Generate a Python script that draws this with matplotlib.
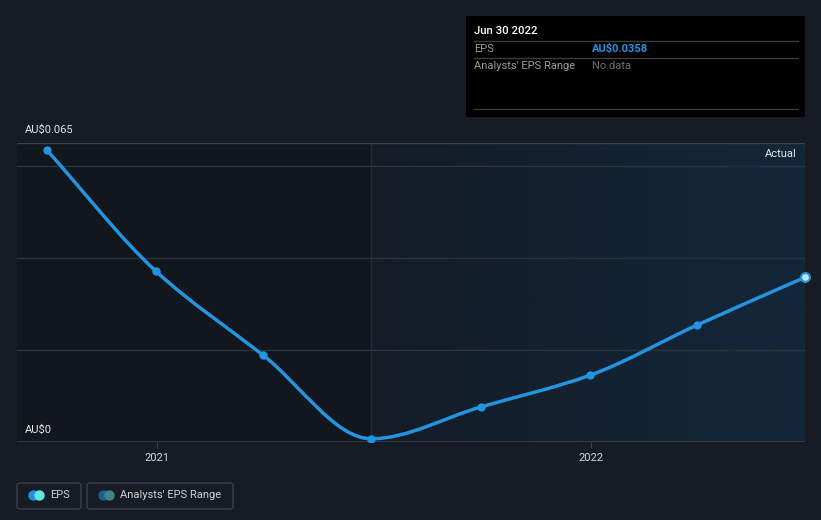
import matplotlib
matplotlib.use("Agg")
import matplotlib.pyplot as plt
import matplotlib.dates as mdates
from matplotlib.path import Path
from matplotlib.patches import PathPatch, FancyBboxPatch, Rectangle
from matplotlib.colors import LinearSegmentedColormap
import numpy as np
import datetime as dt

plt.rcParams['font.family'] = ['Roboto', 'DejaVu Sans']

dates = ["2020-09-30", "2020-12-31", "2021-03-31", "2021-06-30",
         "2021-09-30", "2021-12-31", "2022-03-31", "2022-06-30"]
eps = [0.0635, 0.0371, 0.0189, 0.0007, 0.0076, 0.0145, 0.0254, 0.0358]
y_ticks = [0, 0.065]
y_tick_labels = ["AU\\$0", "AU\\$0.065"]
x_ticks = ["2021-01-01", "2022-01-01"]
x_tick_labels = ["2021", "2022"]

BG = "#161b24"
LINE = "#2394df"
W, H = 821, 520
fig = plt.figure(figsize=(W/100, H/100), dpi=100, facecolor=BG)

def fx(px): return px / W
def fy(py): return 1 - py / H

ax = fig.add_axes([fx(17), fy(442), fx(805) - fx(17), fy(143) - fy(442)])
ax.set_facecolor(BG)

xd = mdates.date2num([dt.datetime.fromisoformat(d) for d in dates])
yd = np.array(eps)
xmin = mdates.date2num(dt.datetime(2020, 9, 5))
xmax = xd[-1]
ax.set_xlim(xmin, xmax)
ax.set_ylim(0, 0.065)

split = xd[3]
ax.axvspan(xmin, split, color="#12161d", zorder=0, lw=0)
grad = np.linspace(0, 1, 256).reshape(1, -1)
cmap = LinearSegmentedColormap.from_list("g", ["#131c27", "#13273a"])
ax.imshow(grad, extent=[split, xmax, 0, 0.065], aspect="auto", cmap=cmap, zorder=0.5)
ax.axvline(split, color="#1b3044", lw=1, zorder=1)

for g in [0.02, 0.04, 0.06]:
    ax.axhline(g, color="#2a323d", lw=1, zorder=1)
ax.axhline(0.065, color="#3a414b", lw=1, zorder=1)
ax.axhline(0, color="#3a414b", lw=1.2, zorder=1)

# monotone cubic (Fritsch-Carlson) bezier path
n = len(xd)
h = np.diff(xd)
delta = np.diff(yd) / h
m = np.zeros(n)
m[0] = delta[0]; m[-1] = delta[-1]
for i in range(1, n - 1):
    if delta[i-1] * delta[i] <= 0:
        m[i] = 0
    else:
        w1 = 2*h[i] + h[i-1]; w2 = h[i] + 2*h[i-1]
        m[i] = (w1 + w2) / (w1/delta[i-1] + w2/delta[i])
verts = [(xd[0], yd[0])]
codes = [Path.MOVETO]
for i in range(n - 1):
    d = h[i] / 3
    verts += [(xd[i] + d, yd[i] + m[i]*d), (xd[i+1] - d, yd[i+1] - m[i+1]*d), (xd[i+1], yd[i+1])]
    codes += [Path.CURVE4]*3
ax.add_patch(PathPatch(Path(verts, codes), fill=False, edgecolor=LINE, lw=2.5, zorder=3, capstyle="round"))
ax.scatter(xd[:-1], yd[:-1], s=36, color=LINE, zorder=4, lw=0)
ax.scatter(xd[-1:], yd[-1:], s=40, facecolor="#bfe6ff", edgecolor=LINE, lw=1.5, zorder=5, clip_on=False)

for s in ax.spines.values():
    s.set_visible(False)
ax.set_yticks([])
xt = mdates.date2num([dt.datetime.fromisoformat(d) for d in x_ticks])
ax.set_xticks(xt)
ax.set_xticklabels(x_tick_labels, color="#d8d8d8", fontsize=8)
ax.tick_params(axis="x", length=4, color="#3a414b", pad=4)

fig.text(fx(797), fy(154), "Actual", ha="right", va="center", color="#e8e8e8", fontsize=8)

for v, lab in zip(y_ticks, y_tick_labels):
    yp = 430 if v == 0 else 130
    fig.text(fx(25), fy(yp), lab, ha="left", va="center", color="#e8e8e8", fontsize=8)

# tooltip
fig.patches.append(Rectangle((fx(466), fy(117)), fx(805)-fx(466), fy(16)-fy(117),
                             transform=fig.transFigure, facecolor="#000000", edgecolor="none", zorder=10))
for ly in [41, 58, 109]:
    fig.lines.append(plt.Line2D([fx(474), fx(798)], [fy(ly), fy(ly)], transform=fig.transFigure,
                                color="#3c3c3c", lw=1, zorder=11))
fig.text(fx(474), fy(31), "Jun 30 2022", color="#ffffff", fontsize=8.2, fontweight="medium", va="center", zorder=12)
fig.text(fx(474), fy(49), "EPS", color="#9a9a9a", fontsize=8, va="center", zorder=12)
fig.text(fx(592), fy(49), "AU\\$0.0358", color="#2394df", fontsize=8, fontweight="bold", va="center", zorder=12)
fig.text(fx(474), fy(66), "Analysts' EPS Range", color="#9a9a9a", fontsize=8, va="center", zorder=12)
fig.text(fx(592), fy(66), "No data", color="#6e6e6e", fontsize=8, va="center", zorder=12)

# legend
def legend_box(x0, x1, c1, c2, label, tx):
    fig.patches.append(FancyBboxPatch((fx(x0), fy(509)), fx(x1)-fx(x0), fy(483)-fy(509),
                                      boxstyle="round,pad=0,rounding_size=0.004",
                                      transform=fig.transFigure, facecolor="none",
                                      edgecolor="#3a414c", lw=1))
    cy = fy(494.5)
    fig.lines.append(plt.Line2D([fx(x0+15.5)], [cy], marker="o", ms=7.5, color=c1, mew=0, transform=fig.transFigure))
    fig.lines.append(plt.Line2D([fx(x0+21.5)], [cy], marker="o", ms=7.5, color=c2, mew=0, transform=fig.transFigure))
    fig.text(fx(tx), cy, label, color="#d0d0d0", fontsize=8, va="center")

legend_box(17, 81, "#1e8fe6", "#5fe6dc", "EPS", 50)
legend_box(87, 233, "#1c5e91", "#3c8582", "Analysts' EPS Range", 120)

fig.savefig("out.png", dpi=100, facecolor=BG)
